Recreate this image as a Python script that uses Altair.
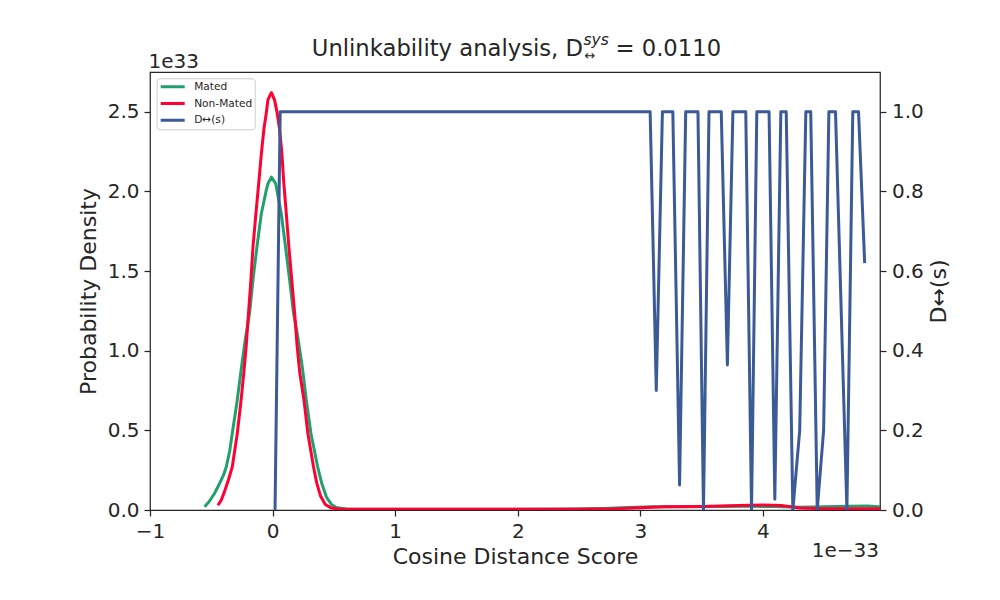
import altair as alt
import pandas as pd

# ---- data (values in units of 1e33 density and 1e-33 score) ----
series_names = ["Mated", "Non-Mated", "D\u2194(s)"]
series_colors = ["#22a06c", "#ff0035", "#3b5a97"]

x_ticks = [-1, 0, 1, 2, 3, 4]
left_ticks = [0.0, 0.5, 1.0, 1.5, 2.0, 2.5]
right_ticks = [0.0, 0.2, 0.4, 0.6, 0.8, 1.0]

mated_x = [-0.555, -0.52, -0.473, -0.43, -0.40, -0.378, -0.35, -0.329, -0.29, -0.26,
           -0.223, -0.188, -0.16, -0.128, -0.092, -0.051, -0.037, -0.01, 0.025, 0.035,
           0.071, 0.106, 0.139, 0.171, 0.207, 0.242, 0.275, 0.313, 0.368, 0.40,
           0.44, 0.48, 0.52, 0.6, 0.8, 1.0, 1.5, 2.0, 2.4, 2.7,
           2.9, 3.1, 3.3, 3.6, 3.9, 4.1, 4.3, 4.5, 4.7, 4.85, 4.955]
mated_y = [0.02, 0.05, 0.105, 0.17, 0.22, 0.27, 0.37, 0.48, 0.68, 0.86,
           1.07, 1.235, 1.445, 1.65, 1.86, 2.01, 2.05, 2.09, 2.05, 2.01,
           1.86, 1.65, 1.445, 1.235, 1.08, 0.90, 0.69, 0.48, 0.27, 0.17,
           0.08, 0.035, 0.015, 0.007, 0.005, 0.005, 0.005, 0.005, 0.006, 0.01,
           0.015, 0.02, 0.02, 0.022, 0.023, 0.022, 0.018, 0.02, 0.024, 0.025, 0.02]

nonmated_x = [-0.446, -0.42, -0.39, -0.36, -0.329, -0.288, -0.257, -0.235, -0.215, -0.198,
              -0.179, -0.16, -0.136, -0.111, -0.09, -0.071, -0.052, -0.038, -0.01, 0.016,
              0.038, 0.057, 0.075, 0.09, 0.112, 0.133, 0.157, 0.18, 0.20, 0.222,
              0.256, 0.288, 0.334, 0.36, 0.39, 0.43, 0.48, 0.55, 0.8, 1.5,
              2.0, 2.5, 2.8, 3.0, 3.2, 3.5, 3.8, 4.0, 4.15, 4.3,
              4.5, 4.7, 4.955]
nonmated_y = [0.03, 0.06, 0.12, 0.19, 0.27, 0.48, 0.69, 0.86, 1.03, 1.22,
              1.42, 1.65, 1.86, 2.07, 2.25, 2.39, 2.49, 2.575, 2.62, 2.575,
              2.49, 2.39, 2.25, 2.07, 1.86, 1.65, 1.44, 1.235, 1.03, 0.86,
              0.69, 0.48, 0.27, 0.17, 0.09, 0.035, 0.012, 0.005, 0.004, 0.004,
              0.004, 0.005, 0.008, 0.014, 0.02, 0.022, 0.028, 0.032, 0.028, 0.012,
              0.008, 0.008, 0.008]

d_x = [0.02, 0.062, 3.08, 3.13, 3.18, 3.265, 3.32, 3.37, 3.47, 3.515,
       3.56, 3.66, 3.71, 3.755, 3.86, 3.907, 3.95, 4.05, 4.097, 4.146,
       4.19, 4.244, 4.30, 4.35, 4.39, 4.443, 4.495, 4.538, 4.592, 4.685,
       4.733, 4.78, 4.83]
d_y = [0.0, 1.0, 1.0, 0.30, 1.0, 1.0, 0.063, 1.0, 1.0, 0.0,
       1.0, 1.0, 0.364, 1.0, 1.0, 0.0, 1.0, 1.0, 0.027, 1.0,
       1.0, 0.0, 0.20, 1.0, 1.0, 0.0, 0.20, 1.0, 1.0, 0.0,
       1.0, 1.0, 0.62]

mated = pd.DataFrame({"score": mated_x, "value": mated_y, "series": series_names[0]})
nonmated = pd.DataFrame({"score": nonmated_x, "value": nonmated_y, "series": series_names[1]})
dsys = pd.DataFrame({"score": d_x, "d": d_y, "series": series_names[2]})

TXT = "#262626"
FONT = "DejaVu Sans"

color = alt.Color(
    "series:N",
    scale=alt.Scale(domain=series_names, range=series_colors),
    legend=alt.Legend(
        title=None, orient="none", legendX=6.7, legendY=6.3,
        symbolType="stroke", symbolStrokeWidth=3, symbolSize=576,
        labelFontSize=10.6, labelFont=FONT, labelColor=TXT, labelOffset=8,
        padding=2.5, clipHeight=12, rowPadding=4.7,
        strokeColor="#cccccc", fillColor="white", cornerRadius=3,
    ),
)

xenc = alt.X(
    "score:Q",
    scale=alt.Scale(domain=[-1, 4.955], nice=False, zero=False),
    axis=alt.Axis(values=x_ticks, format="d", title="Cosine Distance Score",
                  labelPadding=5, titlePadding=5),
)
yleft = alt.Y(
    "value:Q",
    scale=alt.Scale(domain=[0, 2.75], nice=False),
    axis=alt.Axis(values=left_ticks, format=".1f", title="Probability Density",
                  orient="left", labelPadding=5, titlePadding=7),
)
yright = alt.Y(
    "d:Q",
    scale=alt.Scale(domain=[0, 1.1], nice=False),
    axis=alt.Axis(values=right_ticks, format=".1f", title="D\u2194(s)",
                  orient="right", titleAngle=270, titleBaseline="top",
                  labelPadding=5.5, titlePadding=5),
)

line_kw = dict(strokeWidth=3, strokeJoin="round", clip=True)
green = alt.Chart(mated).mark_line(**line_kw).encode(x=xenc, y=yleft, color=color)
red = alt.Chart(nonmated).mark_line(**line_kw).encode(x=xenc, y=yleft, color=color)
left = alt.layer(green, red)
blue = alt.Chart(dsys).mark_line(**line_kw).encode(x=xenc, y=yright, color=color)


def label(txt, px, py, size, align="left", style="normal"):
    return alt.Chart(pd.DataFrame({"t": [txt]})).mark_text(
        align=align, baseline="alphabetic", font=FONT, fontSize=size,
        fontStyle=style, color=TXT,
    ).encode(text="t:N", x=alt.value(px), y=alt.value(py))


texts = [
    label("Unlinkability analysis, D", 433, -15.7, 22.7, align="right"),
    label("sys", 433.5, -27, 15.5, style="italic"),
    label("\u2194", 434.5, -12, 13),
    label("= 0.0110", 465.5, -15.7, 22.7),
    label("1e33", -1.5, -3.7, 20),
    label("1e\u221233", 729, 484.7, 20, align="right"),
]

chart = (
    alt.layer(left, blue, *texts)
    .resolve_scale(y="independent")
    .properties(
        width=730, height=438,
        padding={"left": 142, "top": 64, "right": 112, "bottom": 82},
        autosize=alt.AutoSizeParams(type="none"),
    )
    .configure(font=FONT)
    .configure_view(stroke=TXT, strokeWidth=1.25)
    .configure_axis(
        labelFont=FONT, labelFontSize=20, labelColor=TXT,
        titleFont=FONT, titleFontSize=22, titleFontWeight="normal", titleColor=TXT,
        tickColor=TXT, tickSize=6, tickWidth=1.25, domain=False, grid=False,
        labelFlush=False,
    )
)

chart.save("out.html", embed_options={"renderer": "svg", "actions": False})
